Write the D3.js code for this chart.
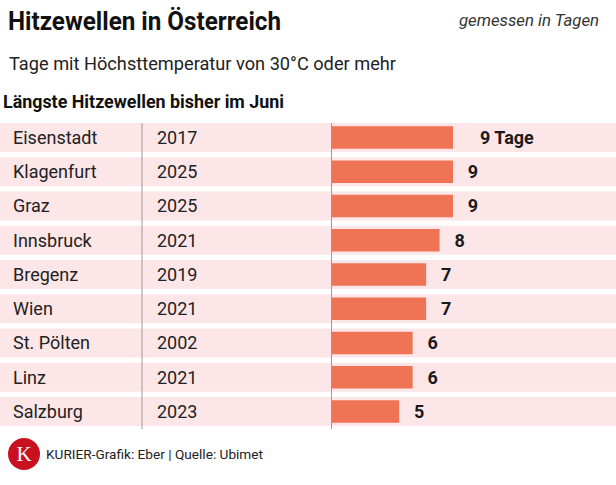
<!DOCTYPE html>
<html>
<head>
<meta charset="utf-8">
<script src="https://cdn.jsdelivr.net/npm/d3@7"></script>
<style>
  body { margin: 0; background: #fff; }
  svg { display: block; font-family: Roboto, "Noto Sans", sans-serif; }
</style>
</head>
<body>
<div id="chart"></div>
<script>
const cities = ['Eisenstadt', 'Klagenfurt', 'Graz', 'Innsbruck', 'Bregenz', 'Wien', 'St. Pölten', 'Linz', 'Salzburg'];
const years = ['2017', '2025', '2025', '2021', '2019', '2021', '2002', '2021', '2023'];
const days = [9, 9, 9, 8, 7, 7, 6, 6, 5];

const width = 616, height = 485;
const barColor = '#ee7455';
const rowColor = '#fde6e8';

const svg = d3.select('#chart').append('svg')
    .attr('width', width)
    .attr('height', height);

// header
svg.append('text')
    .attr('x', 8).attr('y', 30)
    .attr('font-size', 25).attr('font-weight', 700)
    .attr('fill', '#111')
    .attr('textLength', 273).attr('lengthAdjust', 'spacingAndGlyphs')
    .text('Hitzewellen in Österreich');

svg.append('text')
    .attr('x', 599).attr('y', 26)
    .attr('text-anchor', 'end')
    .attr('font-size', 16).attr('font-style', 'italic')
    .attr('fill', '#333')
    .attr('textLength', 140).attr('lengthAdjust', 'spacingAndGlyphs')
    .text('gemessen in Tagen');

svg.append('text')
    .attr('x', 9).attr('y', 70)
    .attr('font-size', 18).attr('fill', '#222')
    .attr('textLength', 387).attr('lengthAdjust', 'spacingAndGlyphs')
    .text('Tage mit Höchsttemperatur von 30°C oder mehr');

svg.append('text')
    .attr('x', 3).attr('y', 108)
    .attr('font-size', 18).attr('font-weight', 700).attr('fill', '#111')
    .attr('textLength', 281).attr('lengthAdjust', 'spacingAndGlyphs')
    .text('Längste Hitzewellen bisher im Juni');

const yScale = d3.scaleBand()
    .domain(cities)
    .range([123, 426])
    .paddingInner(0.153);

const xScale = d3.scaleLinear()
    .domain([0, 9])
    .range([332, 453]);

const rows = svg.append('g').selectAll('g')
    .data(cities)
    .enter()
    .append('g')
    .attr('transform', d => `translate(0,${yScale(d)})`);

rows.append('rect')
    .attr('x', 0)
    .attr('width', width)
    .attr('height', yScale.bandwidth())
    .attr('fill', rowColor);

rows.append('text')
    .attr('x', 13)
    .attr('y', yScale.bandwidth() / 2)
    .attr('dy', '0.35em')
    .attr('font-size', 18)
    .attr('fill', '#222')
    .text(d => d);

rows.append('text')
    .attr('x', 157)
    .attr('y', yScale.bandwidth() / 2)
    .attr('dy', '0.35em')
    .attr('font-size', 18)
    .attr('fill', '#222')
    .text((d, i) => years[i]);

const barH = 22.5;
rows.append('rect')
    .attr('x', xScale(0))
    .attr('y', (yScale.bandwidth() - barH) / 2)
    .attr('width', (d, i) => xScale(days[i]) - xScale(0))
    .attr('height', barH)
    .attr('fill', barColor);

rows.append('text')
    .attr('x', (d, i) => i === 0 ? xScale(days[i]) + 27 : xScale(days[i]) + 20)
    .attr('y', yScale.bandwidth() / 2)
    .attr('dy', '0.35em')
    .attr('text-anchor', (d, i) => i === 0 ? 'start' : 'middle')
    .attr('font-size', 18)
    .attr('font-weight', 700)
    .attr('fill', '#1a1a1a')
    .text((d, i) => i === 0 ? `${days[i]} Tage` : days[i]);

// column dividers
[142, 331.5].forEach(x => {
    svg.append('line')
        .attr('x1', x).attr('x2', x)
        .attr('y1', 123).attr('y2', 429)
        .attr('stroke', '#9a9a9a')
        .attr('stroke-width', 1);
});

// footer
svg.append('circle')
    .attr('cx', 24).attr('cy', 454).attr('r', 16)
    .attr('fill', '#c8101e');

svg.append('text')
    .attr('x', 24).attr('y', 461)
    .attr('text-anchor', 'middle')
    .attr('font-family', '"Liberation Serif", serif')
    .attr('font-size', 21)
    .attr('fill', '#fff')
    .text('K');

svg.append('text')
    .attr('x', 46).attr('y', 459)
    .attr('font-size', 13)
    .attr('fill', '#222')
    .attr('textLength', 217).attr('lengthAdjust', 'spacingAndGlyphs')
    .text('KURIER-Grafik: Eber | Quelle: Ubimet');
</script>
</body>
</html>
